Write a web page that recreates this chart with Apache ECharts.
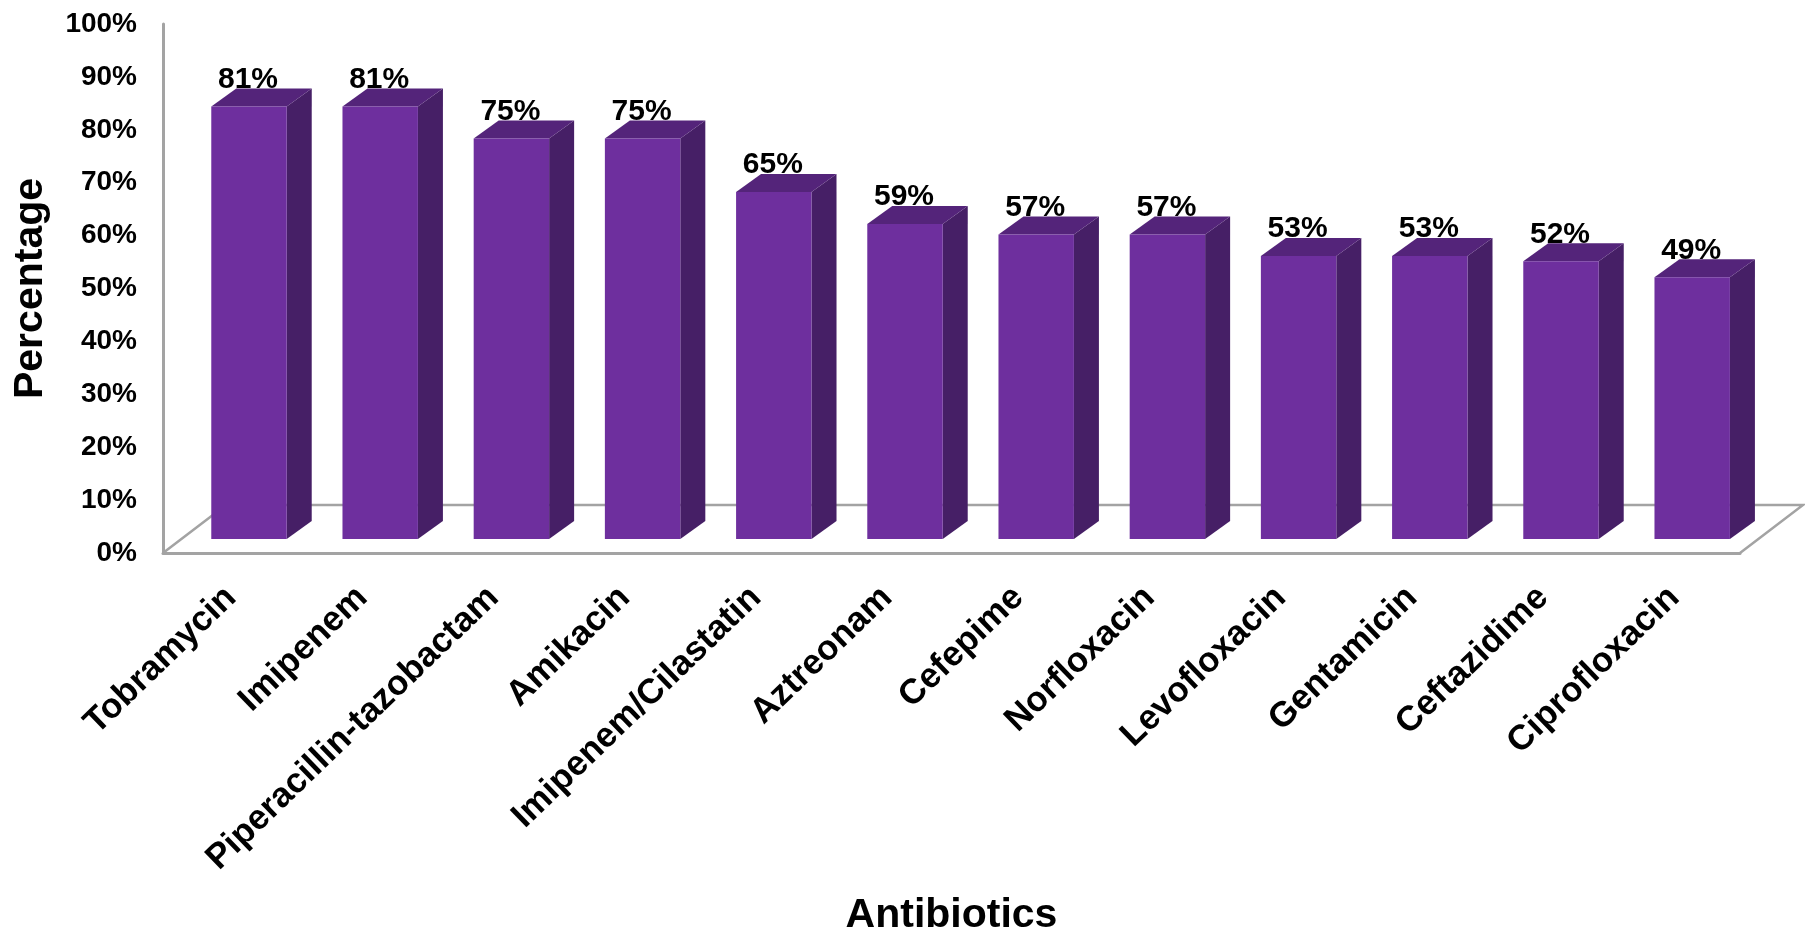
<!DOCTYPE html>
<html>
<head>
<meta charset="utf-8">
<style>html,body{margin:0;padding:0;background:#fff}#chart{width:1805px;height:931px}</style>
<script src="https://cdn.jsdelivr.net/npm/echarts@6/dist/echarts.min.js"></script>
</head>
<body>
<div id="chart"></div>
<script>
// Antibiotic resistance percentages, highest first
const categories = ['Tobramycin','Imipenem','Piperacillin-tazobactam','Amikacin','Imipenem/Cilastatin','Aztreonam','Cefepime','Norfloxacin','Levofloxacin','Gentamicin','Ceftazidime','Ciprofloxacin'];
const percentages = [81,81,75,75,65,59,57,57,53,53,52,49];
const yTicks = [0,10,20,30,40,50,60,70,80,90,100];

const FONT = '"Liberation Sans", Arial, sans-serif';
const BAR_FRONT = '#6e2f9e', BAR_TOP = '#54247a', BAR_SIDE = '#461f66', FRAME = '#a3a3a3';
// Oblique offset of the floor and of the bar depth
const FLOOR_DX = 63, FLOOR_DY = 48, BAR_DX = 25, BAR_DY = 18;

// Floor outline: runs back from the front edge of the frame grid
function renderFloor(params) {
  const c = params.coordSys, b = c.y + c.height, l = c.x, r = c.x + c.width;
  return {
    type: 'polyline',
    shape: { points: [[l, b], [l + FLOOR_DX, b - FLOOR_DY], [r + FLOOR_DX, b - FLOOR_DY], [r, b]] },
    style: { fill: null, stroke: FRAME, lineWidth: 2.5 }
  };
}

// One oblique box per category with its value printed above
function renderBar(params, api) {
  const i = api.value(0), v = api.value(1);
  const top = api.coord([i, v]), base = api.coord([i, 0]);
  const w = api.size([1, 0])[0] * 0.575;
  const x0 = top[0] - w / 2, x1 = top[0] + w / 2, yT = top[1], yB = base[1];
  const poly = (points, fill) => ({ type: 'polygon', shape: { points }, style: { fill } });
  return {
    type: 'group',
    children: [
      poly([[x1, yT], [x1 + BAR_DX, yT - BAR_DY], [x1 + BAR_DX, yB - BAR_DY], [x1, yB]], BAR_SIDE),
      poly([[x0, yT], [x0 + BAR_DX, yT - BAR_DY], [x1 + BAR_DX, yT - BAR_DY], [x1, yT]], BAR_TOP),
      poly([[x0, yT], [x1, yT], [x1, yB], [x0, yB]], BAR_FRONT),
      { type: 'text', z2: 10, style: { text: v + '%', x: top[0] - 1, y: yT - BAR_DY + 6, align: 'center', verticalAlign: 'bottom',
          font: 'bold 30px ' + FONT, fill: '#000' } }
    ]
  };
}

const chart = echarts.init(document.getElementById('chart'));
chart.setOption({
  animation: false,
  backgroundColor: '#fff',
  grid: [
    { left: 163, top: 24, width: 1577, height: 529, outerBoundsMode: 'none' },
    { left: 183.4, top: 5, width: 1574.4, height: 534, outerBoundsMode: 'none' }
  ],
  xAxis: [
    { gridIndex: 0, type: 'value', min: 0, max: 1, splitLine: { show: false }, axisTick: { show: false }, axisLabel: { show: false },
      axisLine: { show: true, lineStyle: { color: FRAME, width: 3 } },
      name: 'Antibiotics', nameLocation: 'middle', nameGap: 342,
      nameTextStyle: { fontFamily: FONT, fontWeight: 'bold', fontSize: 41, color: '#000' } },
    { gridIndex: 1, type: 'category', data: categories, axisLine: { show: false }, axisTick: { show: false },
      axisLabel: { interval: 0, rotate: 44, margin: 36, padding: [0, 25, 0, 0], fontFamily: FONT, fontWeight: 'bold', fontSize: 35, color: '#000' } }
  ],
  yAxis: [
    { gridIndex: 0, type: 'value', min: yTicks[0], max: yTicks[yTicks.length - 1], interval: 10, splitLine: { show: false }, axisTick: { show: false },
      axisLine: { show: true, lineStyle: { color: FRAME, width: 3 } },
      axisLabel: { formatter: '{value}%', margin: 26, fontFamily: FONT, fontWeight: 'bold', fontSize: 28, color: '#000' },
      name: 'Percentage', nameLocation: 'middle', nameGap: 112,
      nameTextStyle: { fontFamily: FONT, fontWeight: 'bold', fontSize: 41, color: '#000' } },
    { gridIndex: 1, type: 'value', min: 0, max: 100, show: false }
  ],
  series: [
    { type: 'custom', xAxisIndex: 0, yAxisIndex: 0, z: 1, silent: true, renderItem: renderFloor, data: [[0, 0]] },
    { type: 'custom', xAxisIndex: 1, yAxisIndex: 1, z: 2, renderItem: renderBar, encode: { x: 0, y: 1 },
      data: percentages.map((v, i) => [i, v]) }
  ]
});
</script>
</body>
</html>
